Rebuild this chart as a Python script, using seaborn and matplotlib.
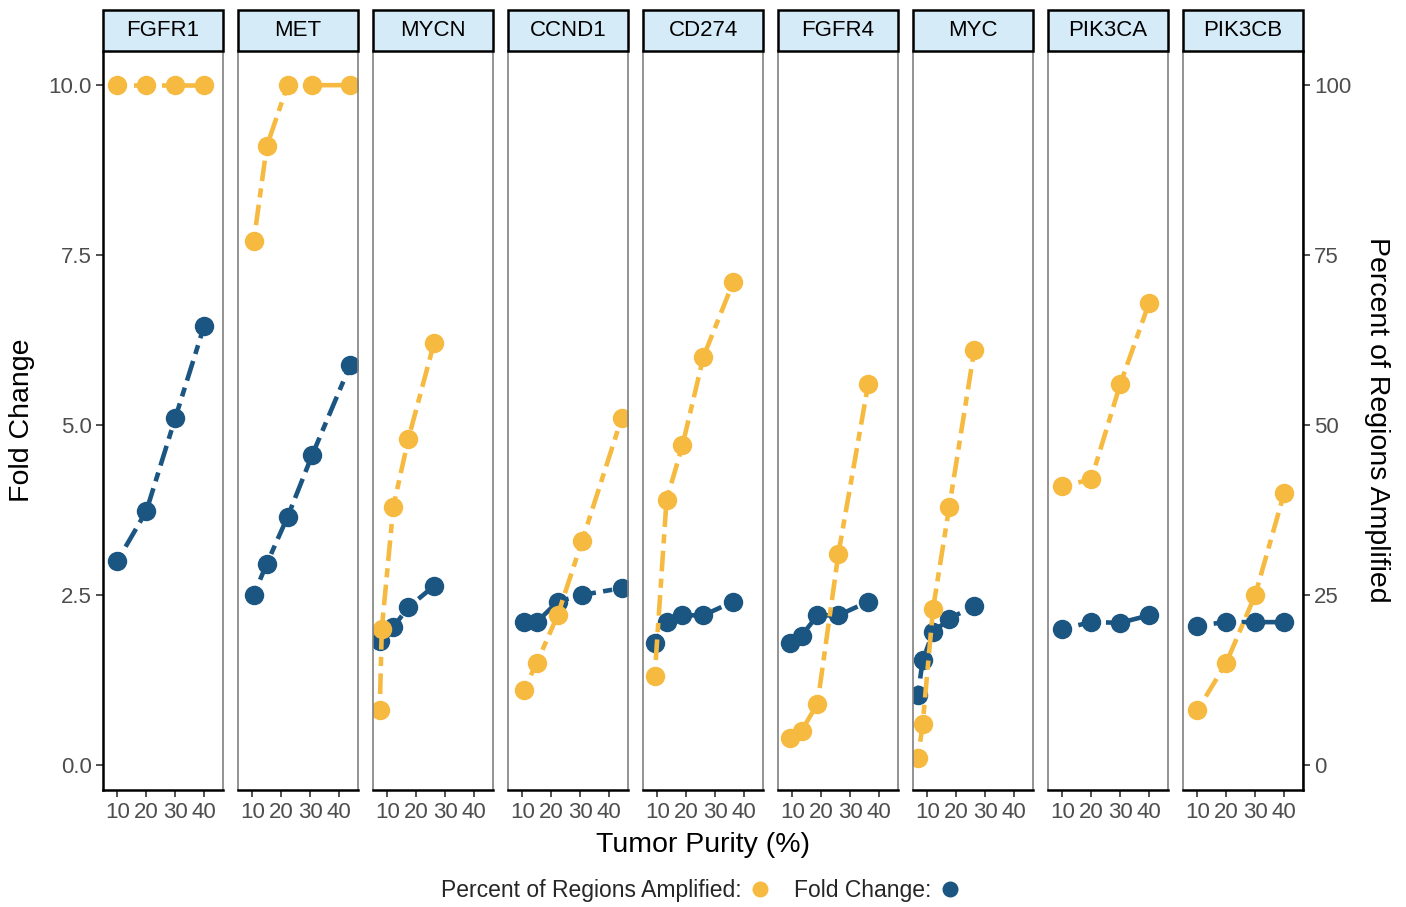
import numpy as np
import pandas as pd
import matplotlib
matplotlib.use("Agg")
import matplotlib.pyplot as plt
from matplotlib.patches import Rectangle
from matplotlib.lines import Line2D
import seaborn as sns

# ---------------- data ----------------
genes = ["FGFR1", "MET", "MYCN", "CCND1", "CD274", "FGFR4", "MYC", "PIK3CA", "PIK3CB"]

purity_FGFR1 = [10, 20, 30, 40]
fold_FGFR1 = [3.0, 3.73, 5.1, 6.46]
pct_FGFR1 = [100, 100, 100, 100]

purity_MET = [10.5, 15.0, 22.2, 30.7, 43.8]
fold_MET = [2.5, 2.96, 3.65, 4.56, 5.88]
pct_MET = [77, 91, 100, 100, 100]

purity_MYCN = [7.4, 8.1, 12.1, 17.3, 26.1]
fold_MYCN = [1.82, 1.98, 2.03, 2.32, 2.63]
pct_MYCN = [8, 20, 38, 48, 62]

purity_CCND1 = [10.5, 15.0, 22.2, 30.7, 44.3]
fold_CCND1 = [2.1, 2.1, 2.4, 2.5, 2.6]
pct_CCND1 = [11, 15, 22, 33, 51]

purity_CD274 = [9.1, 13.2, 18.7, 25.9, 36.2]
fold_CD274 = [1.8, 2.1, 2.2, 2.2, 2.4]
pct_CD274 = [13, 39, 47, 60, 71]

purity_FGFR4 = [9.1, 13.2, 18.7, 25.9, 36.2]
fold_FGFR4 = [1.8, 1.9, 2.2, 2.2, 2.4]
pct_FGFR4 = [4, 5, 9, 31, 56]

purity_MYC = [6.8, 8.4, 12.0, 17.6, 26.2]
fold_MYC = [1.03, 1.54, 1.95, 2.15, 2.34]
pct_MYC = [1, 6, 23, 38, 61]

purity_PIK3CA = [10, 20, 30, 40]
fold_PIK3CA = [2.0, 2.1, 2.09, 2.2]
pct_PIK3CA = [41, 42, 56, 68]

purity_PIK3CB = [10, 20, 30, 40]
fold_PIK3CB = [2.05, 2.1, 2.1, 2.1]
pct_PIK3CB = [8, 15, 25, 40]

x_ticks = [10, 20, 30, 40]
y_ticks_left = [0.0, 2.5, 5.0, 7.5, 10.0]
y_ticks_right = [0, 25, 50, 75, 100]

series_data = {
    "FGFR1": (purity_FGFR1, fold_FGFR1, pct_FGFR1),
    "MET": (purity_MET, fold_MET, pct_MET),
    "MYCN": (purity_MYCN, fold_MYCN, pct_MYCN),
    "CCND1": (purity_CCND1, fold_CCND1, pct_CCND1),
    "CD274": (purity_CD274, fold_CD274, pct_CD274),
    "FGFR4": (purity_FGFR4, fold_FGFR4, pct_FGFR4),
    "MYC": (purity_MYC, fold_MYC, pct_MYC),
    "PIK3CA": (purity_PIK3CA, fold_PIK3CA, pct_PIK3CA),
    "PIK3CB": (purity_PIK3CB, fold_PIK3CB, pct_PIK3CB),
}

rows = []
for g in genes:
    p, f, pc = series_data[g]
    for xi, fi, pci in zip(p, f, pc):
        rows.append({"gene": g, "purity": xi, "series": "Fold Change", "value": fi})
        rows.append({"gene": g, "purity": xi, "series": "Percent", "value": pci / 10.0})
df = pd.DataFrame(rows)

# ---------------- style ----------------
sns.set_theme(style="white")
plt.rcParams["font.family"] = ["Liberation Sans", "DejaVu Sans"]

YELLOW = "#F7BA40"
BLUE = "#1B5582"
STRIP = "#D5EBF8"
TICKC = "#4D4D4D"

fig = plt.figure(figsize=(14.06, 9.07), dpi=100)
axes = fig.subplots(1, 9, sharey=True)
fig.subplots_adjust(left=103 / 1406, right=1303 / 1406, bottom=1 - 790 / 907,
                    top=1 - 50.5 / 907, wspace=0.125)

# secondary axis on the last panel (created first so tick settings below stick)
ax2 = axes[-1].twinx()

dash = (0, (2.0, 1.6, 4.5, 1.6))
for i, (ax, g) in enumerate(zip(axes, genes)):
    sub = df[df.gene == g]
    for s, col in [("Fold Change", BLUE), ("Percent", YELLOW)]:
        d = sub[sub.series == s]
        sns.lineplot(data=d, x="purity", y="value", ax=ax, color=col,
                     linewidth=3.3, linestyle=dash, marker="o", markersize=14,
                     markeredgewidth=0, legend=False, errorbar=None, sort=True)
    ax.set_xlim(5.07, 46.5)
    ax.set_ylim(-0.37, 10.51)
    ax.set_xticks(x_ticks)
    ax.set_xticklabels([str(t) for t in x_ticks])
    ax.set_xlabel("")
    ax.set_ylabel("")
    for side in ["top", "right", "left"]:
        ax.spines[side].set_color("#808080")
        ax.spines[side].set_linewidth(1.2)
        ax.spines[side].set_visible(True)
    ax.spines["bottom"].set_color("black")
    ax.spines["bottom"].set_linewidth(1.8)
    ax.tick_params(axis="x", length=5, width=1.2, color="#333333", labelsize=16,
                   labelcolor=TICKC, pad=4, bottom=True)
    if i == 0:
        ax.set_yticks(y_ticks_left)
        ax.set_yticklabels([f"{t:.1f}" for t in y_ticks_left])
        ax.tick_params(axis="y", length=5, width=1.2, color="#333333", labelsize=16,
                       labelcolor=TICKC, pad=3, left=True, right=False)
        ax.spines["left"].set_color("black")
        ax.spines["left"].set_linewidth(1.8)
    else:
        ax.tick_params(axis="y", left=False, labelleft=False, right=False,
                       labelright=False)
    # strip
    ax.add_patch(Rectangle((0, 1.0), 1, 41 / 739.5, transform=ax.transAxes,
                           facecolor=STRIP, edgecolor="black", linewidth=1.8,
                           clip_on=False, zorder=5))
    ax.text(0.5, 1.0 + 20.5 / 739.5, g, transform=ax.transAxes, ha="center",
            va="center", fontsize=16, color="black", zorder=6)

ax2.set_ylim(-3.7, 105.1)
ax2.set_yticks(y_ticks_right)
ax2.set_yticklabels([str(t) for t in y_ticks_right])
ax2.tick_params(axis="y", length=5, width=1.2, color="#333333", labelsize=16,
                labelcolor=TICKC, pad=3, right=True, left=False, labelleft=False)
ax2.spines["right"].set_color("black")
ax2.spines["right"].set_linewidth(1.8)
for side in ["top", "left", "bottom"]:
    ax2.spines[side].set_visible(False)
ax2.grid(False)

# titles
fig.text(703 / 1406, 1 - 845 / 907, "Tumor Purity (%)", ha="center", va="center",
         fontsize=20.5, color="black")
fig.text(22 / 1406, 1 - 420 / 907, "Fold Change", ha="center", va="center",
         rotation=90, fontsize=20.5, color="black")
fig.text(1377 / 1406, 1 - 420 / 907, "Percent of Regions Amplified", ha="center",
         va="center", rotation=270, fontsize=20.5, color="black")

handles = [Line2D([], [], marker="o", linestyle="", color=YELLOW, markersize=11.5,
                  markeredgewidth=0),
           Line2D([], [], marker="o", linestyle="", color=BLUE, markersize=11.5,
                  markeredgewidth=0)]
fig.legend(handles, ["Percent of Regions Amplified:", "Fold Change:"],
           loc="center", bbox_to_anchor=(701 / 1406, 1 - 891 / 907), ncol=2,
           frameon=False, markerfirst=False, fontsize=16.5, handletextpad=0.3,
           columnspacing=1.0, handlelength=1.0)

fig.savefig("out.png", dpi=100)
